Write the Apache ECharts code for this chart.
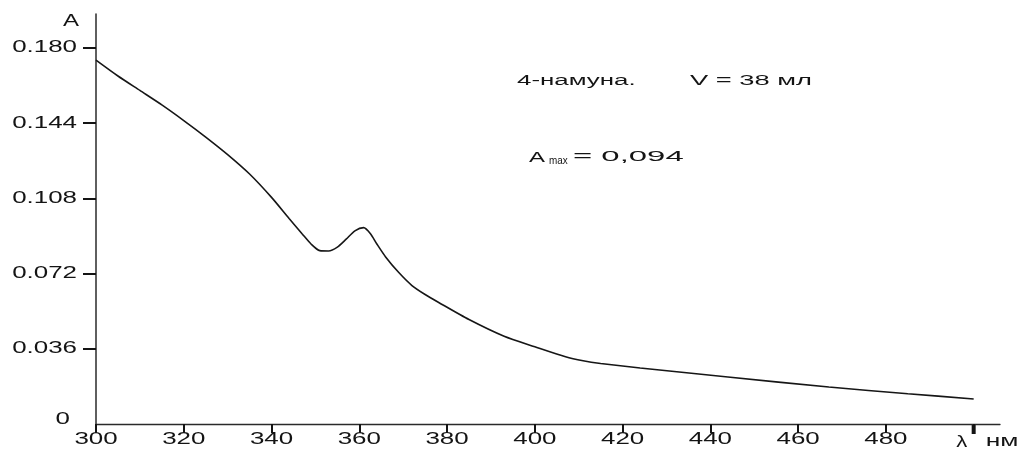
<!DOCTYPE html>
<html>
<head>
<meta charset="utf-8">
<script src="https://cdn.jsdelivr.net/npm/echarts@6/dist/echarts.min.js"></script>
<style>
  html, body { margin: 0; padding: 0; background: #fff; }
  #chart { width: 1017px; height: 450px; }
</style>
</head>
<body>
<div id="chart"></div>
<script>
// Absorption spectrum: wavelength (nm) and absorbance A
const wavelength = [300, 305, 310, 315, 320, 325, 330, 335, 340, 344, 347, 349, 351, 353, 355, 357, 359, 361, 362.5, 364, 366, 369, 372, 375, 378, 385, 393, 400, 407, 411, 415, 424, 444, 467, 485, 500];
const absorbance = [0.1742, 0.1666, 0.1597, 0.1528, 0.1453, 0.1374, 0.1290, 0.1197, 0.1085, 0.0984, 0.0910, 0.0862, 0.0830, 0.0828, 0.0847, 0.0885, 0.0925, 0.0940, 0.0912, 0.0862, 0.0800, 0.0725, 0.0663, 0.0620, 0.0583, 0.0500, 0.0420, 0.0370, 0.0322, 0.0303, 0.0290, 0.0268, 0.0225, 0.0177, 0.0145, 0.0120];

// Axis ticks and labels
const xTickValues = [300, 320, 340, 360, 380, 400, 420, 440, 460, 480, 500];
const xTickLabels = ['300', '320', '340', '360', '380', '400', '420', '440', '460', '480', 'λ'];
const yTickValues = [0, 0.036, 0.072, 0.108, 0.144, 0.180];
const yTickLabels = ['0', '0.036', '0.072', '0.108', '0.144', '0.180'];

// Annotation texts
const sampleText = '4-намуна.';
const volumeText = 'V = 38 мл';
const amaxValue = 0.094;

const FONT = '"Liberation Sans", Arial, sans-serif';
const INK = '#141414';
const STRETCH = 1.62;

const chart = echarts.init(document.getElementById('chart'));

chart.setOption({
  animation: false,
  backgroundColor: '#ffffff',
  grid: { left: 96, right: 17, top: 14, bottom: 26 },
  xAxis: {
    type: 'value',
    min: 300,
    max: 506,
    interval: 20,
    axisLine: { show: true, lineStyle: { color: '#2a2a2a', width: 1.3 } },
    axisTick: { show: true, length: 9, customValues: xTickValues, lineStyle: { color: INK, width: 2 } },
    axisLabel: { show: false },
    splitLine: { show: false }
  },
  yAxis: {
    type: 'value',
    min: 0,
    max: 0.1963,
    interval: 0.036,
    axisLine: { show: true, lineStyle: { color: '#2a2a2a', width: 1.5 } },
    axisTick: { show: true, length: 13, customValues: yTickValues.slice(1), lineStyle: { color: INK, width: 2 } },
    axisLabel: { show: false },
    splitLine: { show: false }
  },
  series: [{
    type: 'line',
    data: wavelength.map((w, i) => [w, absorbance[i]]),
    smooth: 0.25,
    symbol: 'none',
    lineStyle: { color: '#161616', width: 1.6 }
  }]
});

function txt(text, x, y, opts) {
  const o = opts || {};
  return {
    type: 'text',
    x: x,
    y: y,
    scaleX: o.scaleX || STRETCH,
    silent: true,
    style: {
      text: text,
      fontSize: o.size || 16,
      fontFamily: FONT,
      fill: o.fill || INK,
      align: o.align || 'left',
      verticalAlign: 'middle',
      textAlign: o.align || 'left',
      textVerticalAlign: 'middle'
    }
  };
}

const elements = [];
const axisY = chart.convertToPixel({ xAxisIndex: 0 }, 300);
const baseY = chart.convertToPixel({ yAxisIndex: 0 }, 0);

// Value-axis labels
yTickValues.forEach((v, i) => {
  const py = chart.convertToPixel({ yAxisIndex: 0 }, v);
  if (v === 0) {
    elements.push(txt(yTickLabels[i], axisY - 26, py - 4, { align: 'right' }));
  } else {
    elements.push(txt(yTickLabels[i], axisY - 19, py, { align: 'right' }));
  }
});

// Wavelength-axis labels
xTickValues.forEach((v, i) => {
  const px = chart.convertToPixel({ xAxisIndex: 0 }, v);
  if (xTickLabels[i] === 'λ') {
    elements.push(txt(xTickLabels[i], px - 12, baseY + 18, { align: 'center', scaleX: 1.3, size: 17 }));
  } else {
    elements.push(txt(xTickLabels[i], px, baseY + 16, { align: 'center' }));
  }
});

// Heavier end tick at 500 nm
const endX = chart.convertToPixel({ xAxisIndex: 0 }, 500);
elements.push({
  type: 'rect', silent: true,
  shape: { x: endX - 2, y: baseY, width: 4, height: 10 },
  style: { fill: INK }
});

// Axis names
elements.push(txt('нм', endX + 12, baseY + 18, { scaleX: 1.65 }));
elements.push(txt('A', axisY - 33, 22, { align: 'left', scaleX: 1.5 }));

// Annotations
elements.push(txt(sampleText, 517, 81, { size: 14, scaleX: 1.85 }));
elements.push(txt(volumeText, 690, 81, { size: 14, scaleX: 1.95 }));
elements.push(txt('A', 529, 158, { size: 15, scaleX: 1.6 }));
elements.push(txt('max', 549, 161, { size: 11, scaleX: 0.9 }));
elements.push(txt('= ' + amaxValue.toFixed(3).replace('.', ','), 573, 157, { size: 14, scaleX: 2.35 }));

chart.setOption({ graphic: { elements: elements } });
</script>
</body>
</html>
